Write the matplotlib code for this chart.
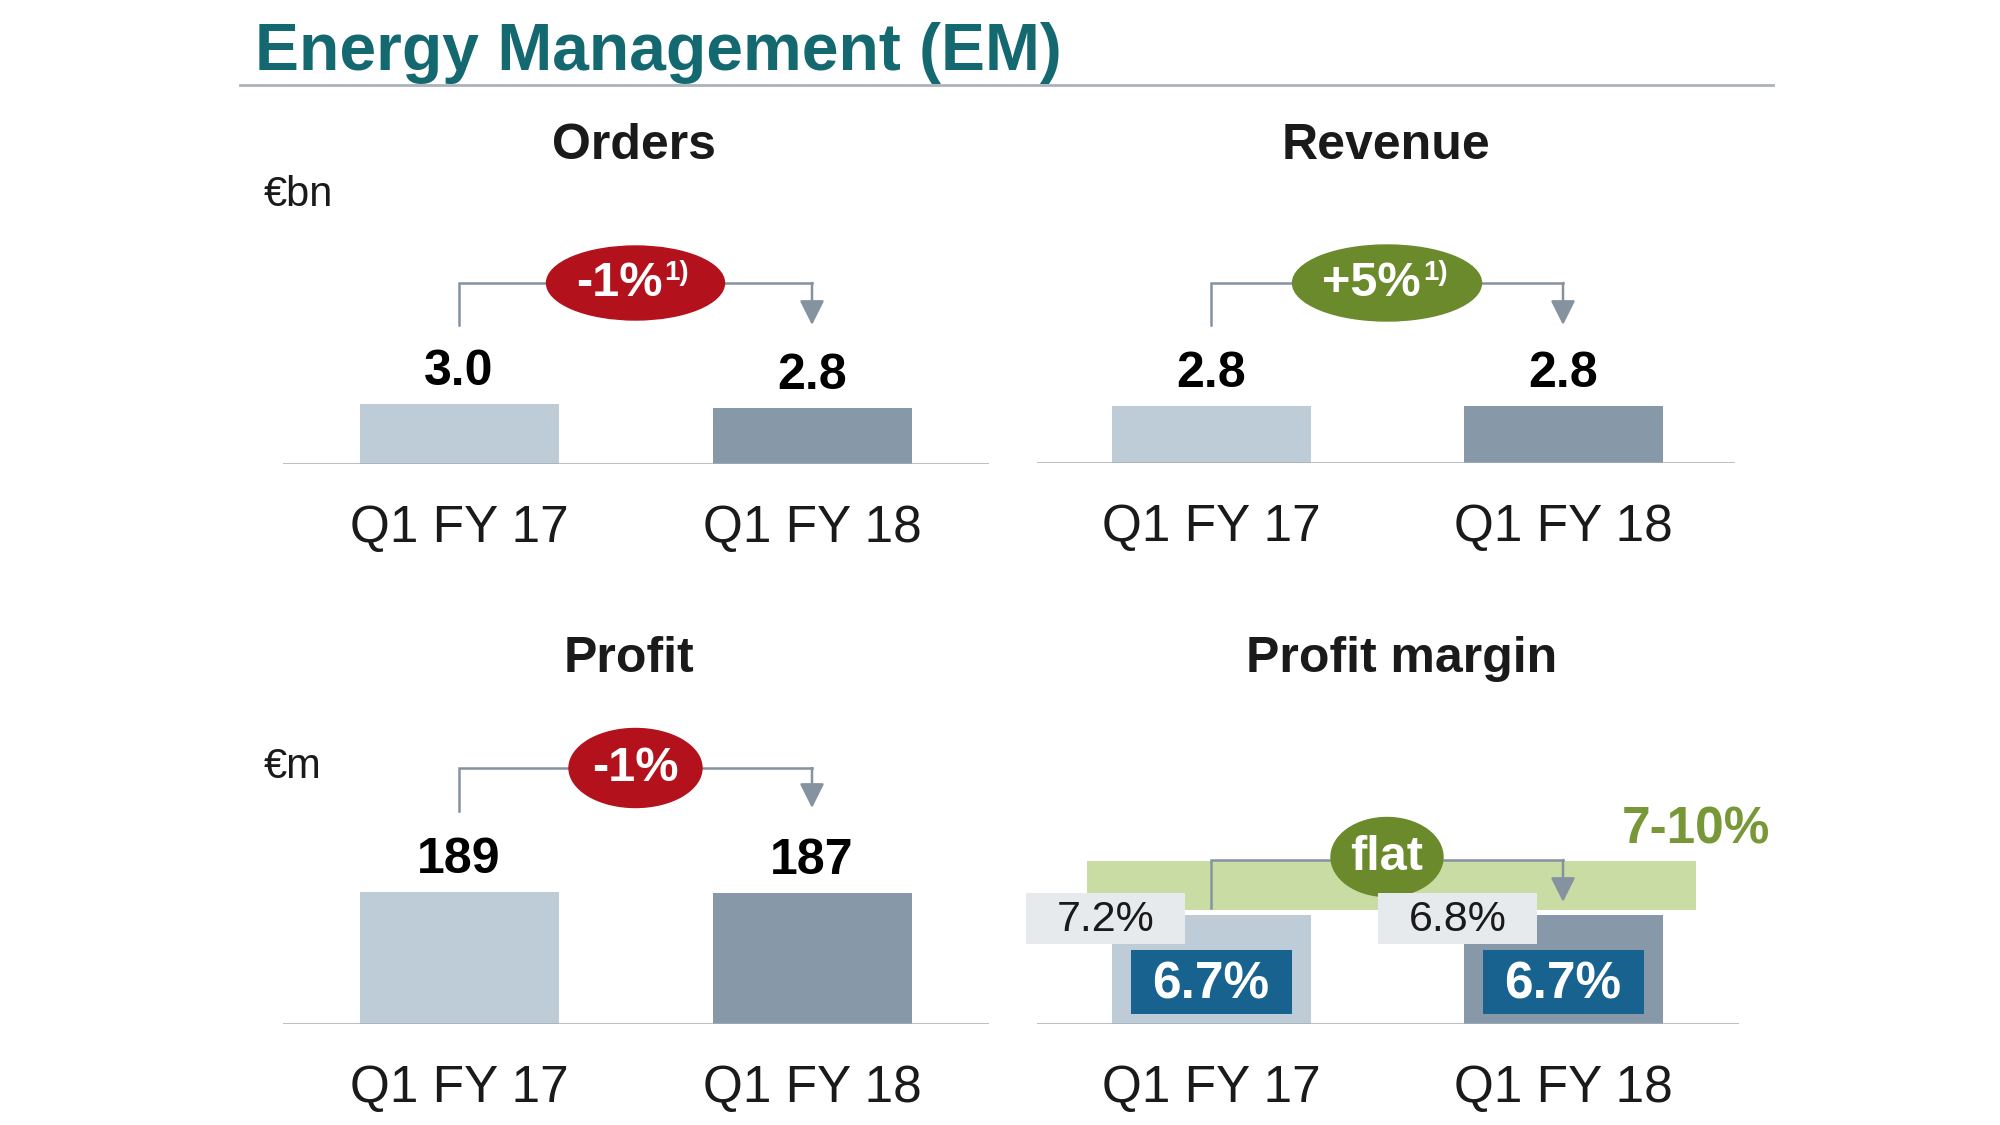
import matplotlib.pyplot as plt
from matplotlib.patches import Ellipse, Rectangle

plt.rcParams['font.family'] = ['Liberation Sans', 'DejaVu Sans']

W, H = 2000, 1125

# data
periods = ['Q1 FY 17', 'Q1 FY 18']
orders = [3.0, 2.8]
revenue = [2.8, 2.8]
profit = [189, 187]
margin = [6.7, 6.7]
margin_reported = [7.2, 6.8]
target_range = (7, 10)
orders_change = '-1%'
revenue_change = '+5%'
profit_change = '-1%'
margin_change = 'flat'

BAR_COLORS = ['#bdccd7', '#8799a8']
LINE = '#a4aeb6'
BRACKET = '#8593a0'
RED = '#b3111c'
GREEN = '#6b8a2c'
BAND = '#c8dca3'
TARGET_TXT = '#789838'
BLUE = '#17628f'
GREYBOX = '#e7eaed'
TITLE = '#14686f'
TXT = '#1a1a1a'

fig = plt.figure(figsize=(20, 11.25), dpi=100)
fig.patch.set_facecolor('white')


def fy(px):
    return 1 - px / H


def panel(x0, x1, base, centers, ppu, values):
    top = base - 330
    ax = fig.add_axes([x0 / W, fy(base), (x1 - x0) / W, (base - top) / H])
    sp = centers[1] - centers[0]
    ax.set_xlim((x0 - centers[0]) / sp, (x1 - centers[0]) / sp)
    ax.set_ylim(0, (base - top) / ppu)
    ax.bar(range(2), values, width=199 / sp, color=BAR_COLORS, zorder=2)
    ax.axhline(0, color=LINE, lw=1.8, zorder=3)
    ax.set_xticks([0, 1], periods, fontsize=37, color=TXT)
    ax.tick_params(axis='x', length=0, pad=29)
    ax.set_yticks([])
    for s in ax.spines.values():
        s.set_visible(False)
    ax.patch.set_alpha(0)
    return ax, sp


def bracket(ax, sp, ppu, h_br, h_left, h_arrow):
    y = h_br / ppu
    ax.plot([0, 0, 1], [h_left / ppu, y, y], color=BRACKET, lw=1.8,
            zorder=3, solid_joinstyle='miter', clip_on=False)
    ax.annotate('', xy=(1, h_arrow / ppu), xytext=(1, y),
                arrowprops=dict(arrowstyle='-|>,head_width=0.3,head_length=0.6',
                                color=BRACKET, lw=1.8, shrinkA=0, shrinkB=0,
                                mutation_scale=25),
                zorder=3, annotation_clip=False)


def bubble(ax, sp, ppu, h, w_px, h_px, color, label, sup=None, sup_off=0):
    y = h / ppu
    ax.add_patch(Ellipse((0.5, y), w_px / sp, h_px / ppu, color=color,
                         zorder=5, clip_on=False))
    if sup is None:
        ax.annotate(label, (0.5, y), ha='center', va='center', fontsize=35,
                    fontweight='bold', color='white', zorder=6,
                    annotation_clip=False)
    else:
        ax.annotate(label, (0.5, y), xytext=(sup_off, -1),
                    textcoords='offset pixels', ha='right', va='center',
                    fontsize=35, fontweight='bold', color='white', zorder=6,
                    annotation_clip=False)
        ax.annotate(sup, (0.5, y), xytext=(sup_off + 2, 10),
                    textcoords='offset pixels', ha='left', va='center',
                    fontsize=20, fontweight='bold', color='white', zorder=6,
                    annotation_clip=False)


def value_labels(ax, values, fmt):
    for i, v in enumerate(values):
        ax.annotate(fmt.format(v), (i, v), xytext=(0, 19),
                    textcoords='offset pixels', ha='center', va='baseline',
                    fontsize=36, fontweight='bold', color='black',
                    annotation_clip=False)


# title
fig.text(255 / W, fy(70), 'Energy Management (EM)', fontsize=47.5,
         fontweight='bold', color=TITLE, ha='left', va='baseline')
fig.add_artist(plt.Line2D([240 / W, 1773 / W], [fy(85), fy(85)],
                          color='#aab3b9', lw=2))

# panel titles and units
for txt, x, y in [('Orders', 634, 159), ('Revenue', 1386, 159),
                  ('Profit', 629, 672), ('Profit margin', 1402, 672)]:
    fig.text(x / W, fy(y), txt, fontsize=36, fontweight='bold',
             color=TXT, ha='center', va='baseline')
fig.text(264 / W, fy(206), '€bn', fontsize=30, color=TXT, va='baseline')
fig.text(264 / W, fy(778), '€m', fontsize=30, color=TXT, va='baseline')

# Orders
ppu = 20
ax, sp = panel(283, 989, 464, (459, 812), ppu, orders)
value_labels(ax, orders, '{:.1f}')
bracket(ax, sp, ppu, 181, 139, 139)
bubble(ax, sp, ppu, 181, 178, 74, RED, orders_change, '1)', 27)

# Revenue
ppu = 20.3
ax, sp = panel(1037, 1735, 463, (1211, 1563), ppu, revenue)
value_labels(ax, revenue, '{:.1f}')
bracket(ax, sp, ppu, 180, 138, 138)
bubble(ax, sp, ppu, 180, 189, 76, GREEN, revenue_change, '1)', 34)

# Profit
ppu = 0.698
ax, sp = panel(283, 989, 1024, (459, 812), ppu, profit)
value_labels(ax, profit, '{}')
bracket(ax, sp, ppu, 256, 213, 216)
bubble(ax, sp, ppu, 256, 133, 79, RED, profit_change)

# Profit margin
ppu = 16.3
ax, sp = panel(1037, 1739, 1024, (1211, 1563), ppu, margin)
band_l, band_r = (1087 - 1211) / sp, (1696 - 1211) / sp
ax.add_patch(Rectangle((band_l, target_range[0]), band_r - band_l,
                       target_range[1] - target_range[0], color=BAND,
                       zorder=1, lw=0))
ax.annotate(f'{target_range[0]}-{target_range[1]}%', (band_r, target_range[1]),
            xytext=(0, 31), textcoords='offset pixels', ha='center',
            va='center', fontsize=37, fontweight='bold', color=TARGET_TXT,
            annotation_clip=False)
bracket(ax, sp, ppu, 164, 116, 122)
bubble(ax, sp, ppu, 167, 112, 79, GREEN, margin_change)
for i, (v, r) in enumerate(zip(margin, margin_reported)):
    # reported margin box
    cx = i - 105 / sp
    ax.add_patch(Rectangle((cx - 80 / sp, 80 / ppu), 159 / sp, 51 / ppu,
                           color=GREYBOX, zorder=7, lw=0, clip_on=False))
    ax.text(cx, 104 / ppu, f'{r}%', ha='center', va='center', fontsize=31,
            color=TXT, zorder=8)
    # adjusted margin box
    ax.add_patch(Rectangle((i - 80 / sp, 10 / ppu), 161 / sp, 64 / ppu,
                           color=BLUE, zorder=7, lw=0))
    ax.text(i, 39 / ppu, f'{v}%', ha='center', va='center', fontsize=37,
            fontweight='bold', color='white', zorder=8)

fig.savefig('out.png', dpi=100, facecolor='white')
